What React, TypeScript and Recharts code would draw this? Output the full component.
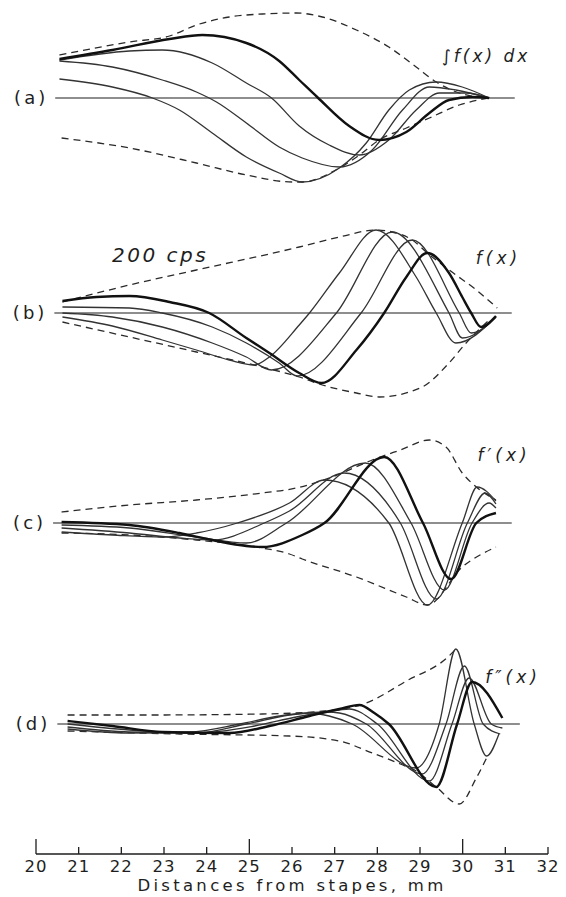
import React from 'react';
import { LineChart, Line, XAxis, YAxis, ReferenceLine, ReferenceDot } from 'recharts';

type Pt = [number, number];

// x = distance from stapes (mm), y = displacement (arbitrary units, + up)

// (a) integral of f(x)
const A_TOP: Pt[] = [[20.55, 43], [22.19, 56], [23.13, 62], [23.76, 73], [24.53, 81], [25.30, 84], [26.10, 85], [26.71, 81], [27.51, 68], [28.27, 51], [28.91, 31], [29.38, 16], [29.92, 5], [30.62, 0]];
const A_BOTTOM: Pt[] = [[20.60, -40], [22.19, -50], [23.76, -65], [24.93, -77], [26.01, -84], [26.24, -84], [27.11, -70], [27.58, -57], [28.04, -42], [28.68, -30], [29.22, -20], [29.92, -7], [30.62, 0]];
const A1: Pt[] = [[20.55, 19], [21.79, 11], [22.73, 0], [23.36, -12], [24.13, -35], [24.93, -59], [25.70, -75], [26.24, -84], [27.11, -70], [27.74, -45], [28.27, -12], [28.75, 8], [29.38, 16], [29.99, 11], [30.62, 0]];
const A2: Pt[] = [[20.55, 37], [21.79, 31], [22.96, 18], [23.76, 6], [24.23, -4], [24.93, -25], [25.70, -49], [26.24, -60], [27.11, -69], [27.88, -52], [28.59, -12], [29.22, 11], [29.84, 8], [30.62, 0]];
const A3: Pt[] = [[20.55, 38], [22.19, 47], [22.96, 48], [24.13, 35], [24.93, 15], [25.52, 0], [26.17, -28], [26.87, -47], [27.58, -57], [28.27, -42], [28.91, -12], [29.45, 5], [30.08, 5], [30.62, 0]];
const A4: Pt[] = [[20.55, 39], [21.79, 48], [23.13, 59], [23.90, 63], [24.93, 55], [25.70, 37], [26.17, 18], [26.59, 1], [27.34, -28], [28.04, -42], [28.68, -34], [29.22, -15], [29.68, -2], [30.22, 1], [30.62, 0]];

// (b) f(x), 200 cps
const B_TOP: Pt[] = [[20.62, 11], [22.19, 28], [23.76, 43], [26.17, 66], [27.11, 76], [27.97, 83], [28.35, 81], [28.82, 73], [29.17, 60], [29.75, 41], [30.32, 23], [30.81, 5]];
const B_BOTTOM: Pt[] = [[20.62, -9], [22.19, -24], [23.76, -39], [25.30, -54], [26.17, -64], [26.71, -72], [27.51, -80], [28.04, -84], [29.05, -74], [29.68, -50], [30.08, -30], [30.62, -7]];
const B1: Pt[] = [[20.62, -4], [21.79, -13], [22.96, -27], [23.76, -37], [24.53, -47], [25.12, -52], [25.47, -44], [26.17, -12], [26.41, 0], [27.11, 40], [27.97, 83], [28.91, 36], [29.38, 0], [29.84, -30], [30.78, -4]];
const B2: Pt[] = [[20.62, 0], [21.79, -4], [22.96, -14], [24.13, -30], [24.93, -44], [25.52, -57], [27.04, 0], [28.35, 81], [29.68, 0], [29.99, -25], [30.78, -4]];
const B3: Pt[] = [[20.62, 6], [22.19, 5], [22.96, 0], [24.13, -14], [24.93, -30], [25.70, -50], [26.12, -63], [27.62, 0], [28.82, 73], [29.92, 0], [30.20, -20], [30.78, -4]];
const B4: Pt[] = [[20.62, 12], [21.42, 16], [22.19, 17], [23.13, 11], [24.06, 0], [24.93, -25], [25.47, -40], [26.17, -60], [26.69, -70], [27.51, -37], [28.16, 0], [28.68, 36], [29.17, 60], [29.68, 40], [29.99, 16], [30.20, 0], [30.43, -14], [30.78, -3]];

// (c) f'(x)
const C_TOP: Pt[] = [[20.60, 11], [22.19, 18], [23.76, 23], [25.30, 30], [26.10, 35], [26.94, 46], [27.88, 63], [28.54, 73], [29.22, 83], [29.61, 76], [29.99, 50], [30.32, 36], [30.78, 23]];
const C_BOTTOM: Pt[] = [[20.60, -10], [22.19, -12], [23.76, -17], [25.30, -25], [25.94, -31], [26.24, -36], [27.51, -54], [28.68, -74], [29.17, -82], [29.99, -44], [30.78, -24]];
const C1: Pt[] = [[20.60, -9], [21.79, -12], [22.96, -14], [23.76, -10], [24.72, 0], [25.94, 20], [26.76, 43], [28.27, 0], [29.17, -82], [29.99, 0], [30.34, 36], [30.78, 22]];
const C2: Pt[] = [[20.60, -5], [22.19, -10], [23.36, -15], [24.13, -17], [25.35, 0], [25.94, 12], [27.22, 50], [28.54, 0], [29.38, -76], [30.11, 0], [30.53, 30], [30.78, 19]];
const C3: Pt[] = [[20.60, -2], [22.19, -5], [23.76, -14], [24.93, -20], [25.87, 0], [27.72, 60], [28.79, 0], [29.57, -67], [30.22, 0], [30.62, 20], [30.78, 15]];
const C4: Pt[] = [[20.60, 1], [22.19, -2], [23.36, -10], [24.13, -17], [24.93, -23], [25.30, -24], [26.24, -12], [26.76, 0], [28.16, 66], [29.07, 0], [29.73, -56], [30.32, 0], [30.78, 10]];

// (d) f''(x)
const D_TOP: Pt[] = [[20.74, 9], [22.66, 9], [25.30, 10], [26.76, 13], [27.74, 21], [28.68, 43], [29.68, 68], [29.84, 75]];
const D_BOTTOM: Pt[] = [[20.74, -7], [23.36, -10], [25.94, -12], [27.11, -17], [27.88, -29], [28.54, -40], [28.91, -47], [29.38, -63], [29.92, -80], [30.32, -54], [30.56, -34]];
const D1: Pt[] = [[20.74, -5], [22.19, -9], [23.59, -8], [24.77, 0], [25.70, 8], [26.41, 11], [26.87, 8], [27.41, 0], [28.91, -44], [29.45, 0], [29.84, 75], [30.27, 0], [30.56, -32], [30.85, -10]];
const D2: Pt[] = [[20.74, -3], [22.19, -8], [23.76, -9], [24.93, 0], [25.94, 9], [26.83, 12], [27.11, 11], [27.74, 0], [29.05, -50], [29.61, 0], [30.04, 58], [30.48, 0], [30.88, -10]];
const D3: Pt[] = [[20.74, 0], [22.19, -6], [23.76, -9], [25.12, -2], [26.10, 7], [27.11, 14], [27.34, 15], [28.00, 0], [29.22, -57], [29.75, 0], [30.15, 46], [30.67, 0], [30.93, -4]];
const D4: Pt[] = [[20.74, 3], [21.79, -2], [22.96, -8], [24.53, -9], [25.47, -2], [26.41, 8], [27.11, 15], [27.58, 19], [27.93, 11], [28.27, 0], [29.38, -63], [29.87, 0], [30.22, 42], [30.93, 6]];

const X_TICKS = [20, 21, 22, 23, 24, 25, 26, 27, 28, 29, 30, 31, 32];

const INK = '#1e1e1e';
const FONT = '"DejaVu Sans", Verdana, sans-serif';

interface Note {
  text: string;
  x: number;
  y: number;
  size: number;
  spacing: number;
  italic?: boolean;
}

interface Panel {
  letter: string;
  baseline: number; // page y of the zero line
  lineFrom: number;
  lineTo: number;
  curves: Pt[][];
  heavy: number;
  top: Pt[];
  bottom: Pt[];
  notes: Note[];
}

const PANELS: Panel[] = [
  {
    letter: '(a)', baseline: 98, lineFrom: 20.45, lineTo: 31.22,
    curves: [A1, A2, A3, A4], heavy: 3, top: A_TOP, bottom: A_BOTTOM,
    notes: [{ text: '∫f(x) dx', x: 30.55, y: 42, size: 17, spacing: 3, italic: true }],
  },
  {
    letter: '(b)', baseline: 313, lineFrom: 20.43, lineTo: 31.15,
    curves: [B1, B2, B3, B4], heavy: 3, top: B_TOP, bottom: B_BOTTOM,
    notes: [
      { text: '200 cps', x: 22.91, y: 58, size: 20, spacing: 2.5, italic: true },
      { text: 'f(x)', x: 30.84, y: 55, size: 17, spacing: 4, italic: true },
    ],
  },
  {
    letter: '(c)', baseline: 523, lineFrom: 20.40, lineTo: 31.15,
    curves: [C1, C2, C3, C4], heavy: 3, top: C_TOP, bottom: C_BOTTOM,
    notes: [{ text: 'f′(x)', x: 30.97, y: 68, size: 17, spacing: 4, italic: true }],
  },
  {
    letter: '(d)', baseline: 724, lineFrom: 20.50, lineTo: 31.34,
    curves: [D1, D2, D3, D4], heavy: 3, top: D_TOP, bottom: D_BOTTOM,
    notes: [{ text: 'f″(x)', x: 31.18, y: 47, size: 17, spacing: 4, italic: true }],
  },
];

const toRows = (pts: Pt[]) => pts.map(([x, y]) => ({ x, y }));

// scale ticks point up from the axis line, numbers sit below it
const AxisTick = (props: any) => {
  const { x, y, payload } = props;
  const major = payload.value % 5 === 0;
  return (
    <g>
      <line x1={x} y1={y} x2={x} y2={y - (major ? 15 : 7)} stroke={INK} strokeWidth={1.3} />
      <text x={x} y={y + 18} textAnchor="middle" fill={INK}
        style={{ fontFamily: FONT, fontSize: 16.5, letterSpacing: 1 }}>
        {payload.value}
      </text>
    </g>
  );
};

const PanelChart = ({ p, withAxis }: { p: Panel; withAxis: boolean }) => {
  const above = 100;
  const below = withAxis ? 130 : 100;
  const axisH = withAxis ? 46 : 0;
  return (
    <div style={{ position: 'absolute', left: 0, top: p.baseline - above }}>
      <LineChart width={566} height={above + below + axisH} margin={{ top: 0, right: 18, bottom: 0, left: 36 }}>
        <XAxis
          type="number"
          dataKey="x"
          domain={[20, 32]}
          ticks={X_TICKS}
          interval={0}
          allowDataOverflow
          hide={!withAxis}
          height={axisH || 1}
          tickLine={false}
          tickSize={0}
          tickMargin={0}
          axisLine={{ stroke: INK, strokeWidth: 1.3 }}
          tick={<AxisTick />}
          label={{
            value: 'Distances from stapes, mm',
            position: 'insideBottom',
            offset: 9,
            fill: INK,
            style: { fontFamily: FONT, fontSize: 16.5, letterSpacing: 3.3 },
          }}
        />
        <YAxis type="number" domain={[-below, above]} hide allowDataOverflow />
        <ReferenceLine
          segment={[{ x: p.lineFrom, y: 0 }, { x: p.lineTo, y: 0 }]}
          stroke={INK}
          strokeWidth={1.2}
          label={{
            value: p.letter,
            position: 'left',
            offset: 7,
            fill: INK,
            style: { fontFamily: FONT, fontSize: 18, letterSpacing: 3 },
          }}
        />
        {[p.top, p.bottom].map((env, i) => (
          <Line
            key={`env-${i}`}
            data={toRows(env)}
            dataKey="y"
            type="monotone"
            stroke="#2a2a2a"
            strokeWidth={1.3}
            strokeDasharray="7 5"
            dot={false}
            isAnimationActive={false}
          />
        ))}
        {p.curves.map((c, i) => (
          <Line
            key={`wave-${i}`}
            data={toRows(c)}
            dataKey="y"
            type="monotone"
            stroke={i === p.heavy ? '#111' : '#333'}
            strokeWidth={i === p.heavy ? 2.4 : 1.3}
            dot={false}
            isAnimationActive={false}
          />
        ))}
        {p.notes.map((n) => (
          <ReferenceDot
            key={n.text}
            x={n.x}
            y={n.y}
            r={0}
            fill="none"
            stroke="none"
            ifOverflow="visible"
            label={{
              value: n.text,
              position: 'center',
              fill: INK,
              style: {
                fontFamily: FONT,
                fontSize: n.size,
                letterSpacing: n.spacing,
                fontStyle: n.italic ? 'italic' : 'normal',
              },
            }}
          />
        ))}
      </LineChart>
    </div>
  );
}

export default function App() {
  return (
    <div style={{ position: 'absolute', left: 0, top: 0, width: 566, height: 897, overflow: 'hidden', background: '#fff' }}>
      {PANELS.map((p, i) => (
        <PanelChart key={p.letter} p={p} withAxis={i === PANELS.length - 1} />
      ))}
    </div>
  );
}
